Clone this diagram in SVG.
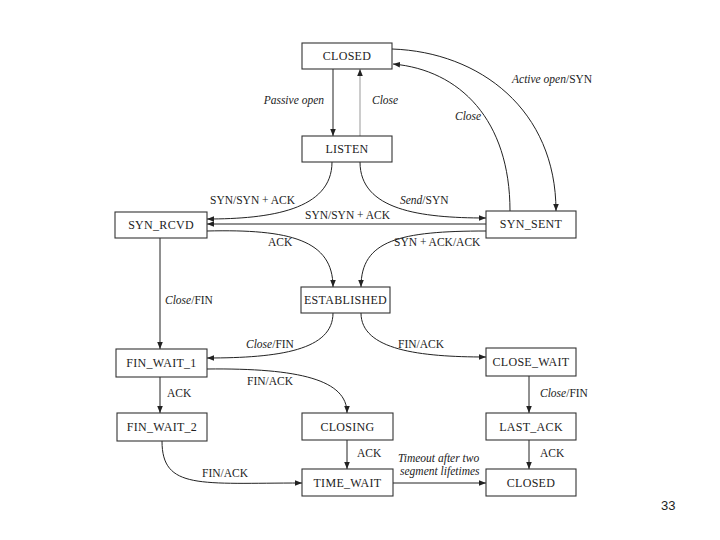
<svg xmlns="http://www.w3.org/2000/svg" width="720" height="540" viewBox="0 0 720 540">
<style>
.box{fill:#fff;stroke:#333;stroke-width:1.1}
.bt{font-family:"Liberation Serif",serif;font-size:12px;letter-spacing:0.3px;fill:#222;text-anchor:middle}
.lb{font-family:"Liberation Serif",serif;font-size:11.5px;fill:#222}
.it{font-style:italic}
.c{fill:none;stroke:#222;stroke-width:1;marker-end:url(#ah)}
</style>
<defs>
<marker id="ah" viewBox="0 0 10 10" refX="10" refY="5" markerWidth="7" markerHeight="7" markerUnits="userSpaceOnUse" orient="auto">
<path d="M0,1 L10,5 L0,9 z" fill="#222"/>
</marker>
</defs>
<rect width="720" height="540" fill="#fff"/>
<g id="connectors">
<path class="c" d="M333,69 L333,136"/>
<path class="c" d="M360,136 L360,69" style="stroke:#999"/>
<path class="c" d="M392,49 C480,52 556,110 556,211"/>
<path class="c" d="M510,211 C510,120 460,70 393,64"/>
<path class="c" d="M332,162 C332,210 270,219 207,219"/>
<path class="c" d="M360,162 C360,210 420,218 486,218"/>
<path class="c" d="M486,224 L207,224"/>
<path class="c" d="M207,231 C290,229 333,240 333,287"/>
<path class="c" d="M486,231 C400,231 361,240 361,287"/>
<path class="c" d="M160,238 L160,349"/>
<path class="c" d="M333,313 C333,350 280,358 207,358"/>
<path class="c" d="M361,313 C361,350 420,357 486,357"/>
<path class="c" d="M207,369 C300,368 347,380 347,413"/>
<path class="c" d="M160,377 L160,413"/>
<path class="c" d="M529,376 L529,413"/>
<path class="c" d="M162,441 C162,490 200,483 302,483"/>
<path class="c" d="M347,440 L347,469"/>
<path class="c" d="M529,440 L529,469"/>
<path class="c" d="M393,483 L486,483"/>
</g>
<g id="labels">
<text class="lb it" x="324" y="104" text-anchor="end">Passive open</text>
<text class="lb it" x="372" y="104">Close</text>
<text class="lb" x="512" y="83"><tspan class="it">Active open</tspan>/SYN</text>
<text class="lb it" x="455" y="120">Close</text>
<text class="lb" x="210" y="204">SYN/SYN + ACK</text>
<text class="lb" x="400" y="204"><tspan class="it">Send</tspan>/SYN</text>
<text class="lb" x="305" y="219">SYN/SYN + ACK</text>
<text class="lb" x="268" y="246">ACK</text>
<text class="lb" x="394" y="246">SYN + ACK/ACK</text>
<text class="lb" x="165" y="304"><tspan class="it">Close</tspan>/FIN</text>
<text class="lb" x="246" y="348"><tspan class="it">Close</tspan>/FIN</text>
<text class="lb" x="398" y="348">FIN/ACK</text>
<text class="lb" x="247" y="385">FIN/ACK</text>
<text class="lb" x="167" y="397">ACK</text>
<text class="lb" x="540" y="397"><tspan class="it">Close</tspan>/FIN</text>
<text class="lb" x="357" y="457">ACK</text>
<text class="lb" x="540" y="457">ACK</text>
<text class="lb it" x="398" y="462">Timeout after two</text>
<text class="lb it" x="400" y="475">segment lifetimes</text>
<text class="lb" x="202" y="477">FIN/ACK</text>
</g>
<g id="closed-top"><rect class="box" x="302" y="43" width="90" height="26"/><text class="bt" x="347" y="60">CLOSED</text></g>
<g id="listen"><rect class="box" x="302" y="136" width="90" height="26"/><text class="bt" x="347" y="153">LISTEN</text></g>
<g id="syn-rcvd"><rect class="box" x="115" y="212" width="92" height="26"/><text class="bt" x="161" y="229">SYN_RCVD</text></g>
<g id="syn-sent"><rect class="box" x="486" y="211" width="90" height="27"/><text class="bt" x="531" y="228">SYN_SENT</text></g>
<g id="established"><rect class="box" x="301" y="287" width="89" height="26"/><text class="bt" x="345.5" y="304">ESTABLISHED</text></g>
<g id="fin-wait-1"><rect class="box" x="116" y="349" width="91" height="28"/><text class="bt" x="161.5" y="367">FIN_WAIT_1</text></g>
<g id="close-wait"><rect class="box" x="486" y="348" width="90" height="28"/><text class="bt" x="531" y="366">CLOSE_WAIT</text></g>
<g id="fin-wait-2"><rect class="box" x="117" y="413" width="90" height="28"/><text class="bt" x="162" y="431">FIN_WAIT_2</text></g>
<g id="closing"><rect class="box" x="302" y="413" width="91" height="27"/><text class="bt" x="347.5" y="431">CLOSING</text></g>
<g id="last-ack"><rect class="box" x="486" y="413" width="90" height="27"/><text class="bt" x="531" y="431">LAST_ACK</text></g>
<g id="time-wait"><rect class="box" x="302" y="469" width="91" height="27"/><text class="bt" x="347.5" y="487">TIME_WAIT</text></g>
<g id="closed-bottom"><rect class="box" x="486" y="469" width="90" height="27"/><text class="bt" x="531" y="487">CLOSED</text></g>
<text x="661" y="510" font-family="Liberation Sans,sans-serif" font-size="13" fill="#222">33</text>
</svg>
